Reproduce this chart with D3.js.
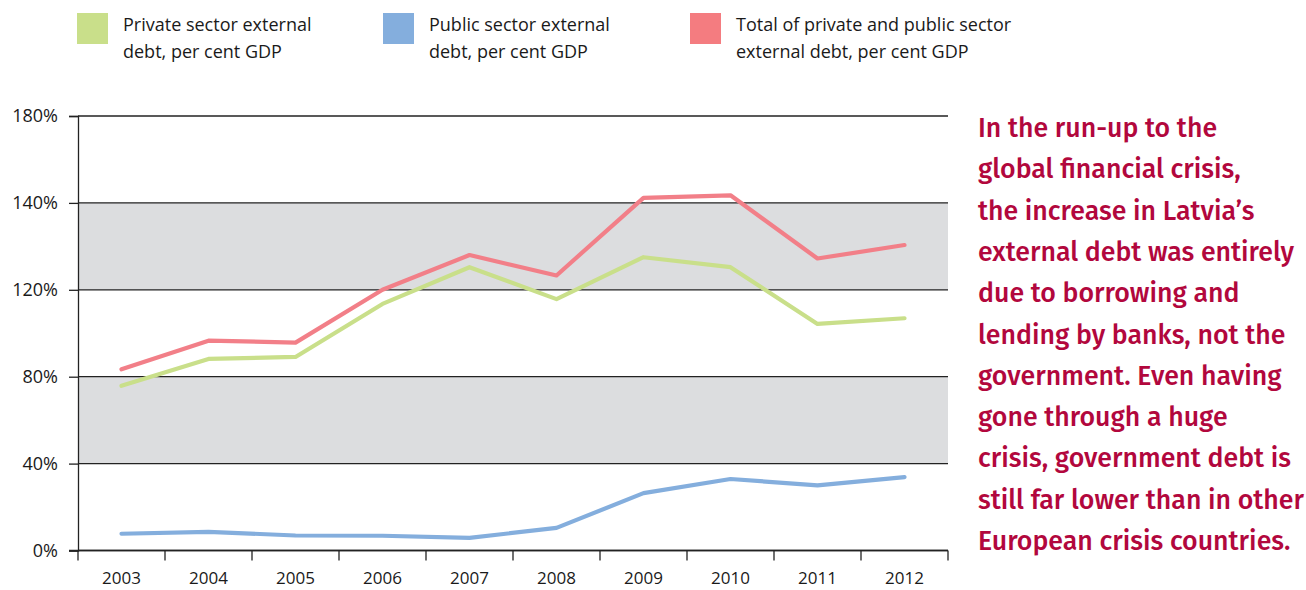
<!DOCTYPE html>
<html>
<head>
<meta charset="utf-8">
<script src="https://d3js.org/d3.v7.min.js"></script>
<style>
  body { margin: 0; background: #fff; }
  svg { display: block; }
  .lbl { font-family: "Open Sans", sans-serif; fill: #1a1a1a; }
  .note { font-family: "Fira Sans", "Noto Sans", sans-serif; font-weight: 500; fill: #b2073d; }
</style>
</head>
<body>
<svg id="chart" width="1306" height="590"></svg>
<script>
// data
var years = ["2003","2004","2005","2006","2007","2008","2009","2010","2011","2012"];
var privateDebt = [75.8, 88.2, 89.1, 113.5, 125.2, 115.7, 127.5, 125.2, 104.3, 106.9];
var publicDebt  = [7.7, 8.6, 6.9, 6.8, 5.8, 10.4, 26.4, 32.9, 30.0, 33.8];
var totalDebt   = [83.4, 96.6, 95.7, 120.0, 128.0, 123.3, 142.3, 143.5, 127.2, 130.3];
// the axis labels as printed (unevenly spaced values, evenly spaced ticks)
var yTicks = [0, 40, 80, 120, 140, 180];
var legendItems = [
  {lines: ["Private sector external", "debt, per cent GDP"], color: "#c9df8a"},
  {lines: ["Public sector external", "debt, per cent GDP"], color: "#84aedd"},
  {lines: ["Total of private and public sector", "external debt, per cent GDP"], color: "#f47c80"}
];
var noteLines = [
  "In the run-up to the",
  "global financial crisis,",
  "the increase in Latvia\u2019s",
  "external debt was entirely",
  "due to borrowing and",
  "lending by banks, not the",
  "government. Even having",
  "gone through a huge",
  "crisis, government debt is",
  "still far lower than in other",
  "European crisis countries."
];

var svg = d3.select("#chart");
var plotL = 78, plotR = 948, plotT = 116, plotB = 550.5;

var x = d3.scaleBand().domain(years).range([plotL, plotR]);
// piecewise scale so the printed labels sit on evenly spaced gridlines
var y = d3.scaleLinear().domain(yTicks)
  .range(yTicks.map(function (d, i) { return plotB - i * (plotB - plotT) / 5; }));

// grey bands
var bands = [[40, 80], [120, 140]];
svg.selectAll("rect.band").data(bands).enter().append("rect")
  .attr("class", "band")
  .attr("x", plotL).attr("width", plotR - plotL)
  .attr("y", function (d) { return y(d[1]); })
  .attr("height", function (d) { return y(d[0]) - y(d[1]); })
  .attr("fill", "#dcdddf");

// gridlines
svg.selectAll("line.grid").data(yTicks).enter().append("line")
  .attr("x1", plotL).attr("x2", plotR)
  .attr("y1", function (d) { return y(d); }).attr("y2", function (d) { return y(d); })
  .attr("stroke", "#222").attr("stroke-width", 1.3);

// y axis
var yAxis = svg.append("g").attr("transform", "translate(" + plotL + ",0)")
  .call(d3.axisLeft(y).tickValues(yTicks).tickSize(9).tickPadding(11)
    .tickFormat(function (d) { return d + "%"; }));
yAxis.select(".domain").attr("stroke", "#222").attr("stroke-width", 1.3);
yAxis.selectAll(".tick line").attr("stroke", "#222").attr("stroke-width", 1.3);
yAxis.selectAll("text").attr("class", "lbl").style("font-size", "18px").attr("fill", "#1a1a1a");

// x axis: ticks at band edges
var xAxis = svg.append("g").attr("transform", "translate(0," + plotB + ")")
  .call(d3.axisBottom(x).tickSize(0).tickPadding(21));
xAxis.select(".domain").remove();
xAxis.selectAll("text").attr("class", "lbl").style("font-size", "17px").attr("fill", "#1a1a1a");
var edges = years.map(function (d) { return x(d); }).concat([plotR]);
svg.selectAll("line.xtick").data(edges).enter().append("line")
  .attr("x1", function (d) { return d; }).attr("x2", function (d) { return d; })
  .attr("y1", plotB).attr("y2", plotB + 10)
  .attr("stroke", "#222").attr("stroke-width", 1.3);
svg.append("line").attr("x1", plotL - 9).attr("x2", plotR)
  .attr("y1", plotB).attr("y2", plotB).attr("stroke", "#222").attr("stroke-width", 1.3);

// lines
var line = d3.line()
  .x(function (d, i) { return x(years[i]) + x.bandwidth() / 2; })
  .y(function (d) { return y(d); });
[[publicDebt, "#84aedd"], [privateDebt, "#c9df8a"], [totalDebt, "#f27f88"]].forEach(function (s) {
  svg.append("path").datum(s[0])
    .attr("d", line).attr("fill", "none")
    .attr("stroke", s[1]).attr("stroke-width", 4.2)
    .attr("stroke-linecap", "round").attr("stroke-linejoin", "round");
});

// legend
var lx = [77, 383, 690];
legendItems.forEach(function (item, i) {
  var g = svg.append("g").attr("transform", "translate(" + lx[i] + ",13)");
  g.append("rect").attr("width", 31).attr("height", 31).attr("fill", item.color);
  g.selectAll("text").data(item.lines).enter().append("text")
    .attr("class", "lbl").attr("x", 46)
    .attr("y", function (d, j) { return 18 + j * 27; })
    .style("font-size", "18px")
    .text(function (d) { return d; });
});

// note on the right
svg.append("g").selectAll("text").data(noteLines).enter().append("text")
  .attr("class", "note").attr("x", 978)
  .attr("y", function (d, i) { return 137 + i * 41.3; })
  .style("font-size", "26.7px")
  .text(function (d) { return d; });
</script>
</body>
</html>
